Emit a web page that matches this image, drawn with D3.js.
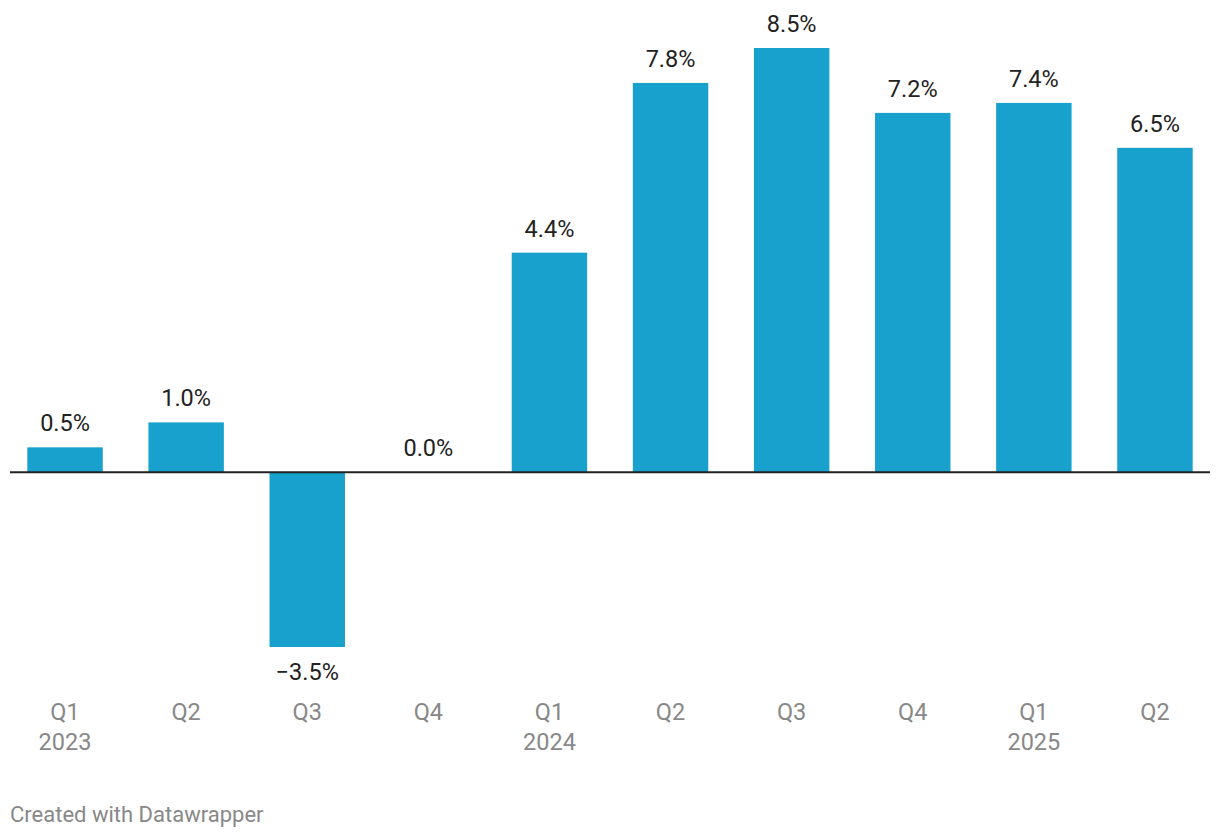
<!DOCTYPE html>
<html>
<head>
<meta charset="utf-8">
<script src="https://cdn.jsdelivr.net/npm/d3@7"></script>
<style>
  html, body { margin: 0; padding: 0; background: #fff; }
  svg { display: block; font-family: Roboto, "Noto Sans", sans-serif; }
</style>
</head>
<body>
<div id="chart"></div>
<script>
const quarters = ['Q1', 'Q2', 'Q3', 'Q4', 'Q1', 'Q2', 'Q3', 'Q4', 'Q1', 'Q2'];
const years = ['2023', '', '', '', '2024', '', '', '', '2025', ''];
const values = [0.5, 1.0, -3.5, 0.0, 4.4, 7.8, 8.5, 7.2, 7.4, 6.5];

const width = 1220;
const height = 838;

const data = quarters.map((q, i) => ({ id: i, q: q, year: years[i], value: values[i] }));

const svg = d3.select('#chart')
    .append('svg')
    .attr('width', width)
    .attr('height', height);

const x = d3.scaleBand()
    .domain(data.map(d => d.id))
    .range([10, 1210])
    .paddingInner(0.377)
    .paddingOuter(0.143);

const y = d3.scaleLinear()
    .domain([-3.5, 8.5])
    .range([647, 48]);

const fmt = v => d3.format('.1f')(v).replace('-', '\u2212') + '%';

// bars
svg.append('g')
    .selectAll('rect')
    .data(data)
    .enter().append('rect')
    .attr('x', d => x(d.id))
    .attr('width', x.bandwidth())
    .attr('y', d => y(Math.max(0, d.value)))
    .attr('height', d => Math.abs(y(d.value) - y(0)))
    .attr('fill', '#18a1cd');

// zero line
svg.append('line')
    .attr('x1', 10)
    .attr('x2', 1210)
    .attr('y1', y(0))
    .attr('y2', y(0))
    .attr('stroke', '#222')
    .attr('stroke-width', 2);

// value labels
svg.append('g')
    .selectAll('text')
    .data(data)
    .enter().append('text')
    .attr('x', d => x(d.id) + x.bandwidth() / 2)
    .attr('y', d => d.value < 0 ? y(d.value) + 33 : y(d.value) - 16)
    .attr('text-anchor', 'middle')
    .attr('font-size', 23.5)
    .attr('fill', '#222')
    .text(d => fmt(d.value));

// category labels
const ticks = svg.append('g')
    .selectAll('text')
    .data(data)
    .enter().append('text')
    .attr('x', d => x(d.id) + x.bandwidth() / 2)
    .attr('y', 720)
    .attr('text-anchor', 'middle')
    .attr('font-size', 23.5)
    .attr('fill', '#888');

ticks.append('tspan').text(d => d.q);
ticks.append('tspan')
    .attr('x', d => x(d.id) + x.bandwidth() / 2)
    .attr('dy', 30)
    .text(d => d.year);

// footer
svg.append('text')
    .attr('x', 10)
    .attr('y', 822)
    .attr('font-size', 22)
    .attr('fill', '#888')
    .text('Created with Datawrapper');
</script>
</body>
</html>
